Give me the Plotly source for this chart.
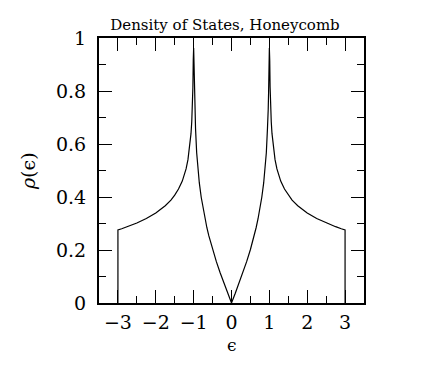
import plotly.graph_objects as go

# Density of states values (energy eps, density rho)
eps = [-3.0, -3.0, -2.9, -2.75, -2.5, -2.25, -2.0, -1.75, -1.6, -1.5, -1.4, -1.3, -1.25,
       -1.2, -1.15, -1.1, -1.07, -1.05, -1.04, -1.03, -1.02, -1.01, -1.0,
       -0.99, -0.98, -0.97, -0.96, -0.95, -0.92, -0.9, -0.88, -0.85, -0.8, -0.75,
       -0.7, -0.65, -0.6, -0.5, -0.4, -0.3, -0.2, -0.1, 0.0,
       0.1, 0.2, 0.3, 0.4, 0.5, 0.6, 0.65, 0.7, 0.75, 0.8, 0.85, 0.88, 0.9, 0.92,
       0.95, 0.96, 0.97, 0.98, 0.99, 1.0,
       1.01, 1.02, 1.03, 1.04, 1.05, 1.07, 1.1, 1.15, 1.2, 1.25, 1.3, 1.4, 1.5,
       1.6, 1.75, 2.0, 2.25, 2.5, 2.75, 2.9, 3.0, 3.0]
rho = [0.0, 0.276, 0.280, 0.288, 0.302, 0.319, 0.340, 0.367, 0.388, 0.407, 0.430, 0.460, 0.481,
       0.506, 0.541, 0.592, 0.639, 0.684, 0.715, 0.756, 0.814, 0.915, 0.962,
       0.905, 0.796, 0.731, 0.684, 0.658, 0.567, 0.527, 0.495, 0.453, 0.399, 0.355,
       0.317, 0.284, 0.254, 0.202, 0.156, 0.114, 0.074, 0.037, 0.0,
       0.037, 0.074, 0.114, 0.156, 0.202, 0.254, 0.284, 0.317, 0.355, 0.399, 0.453, 0.495, 0.527, 0.567,
       0.658, 0.684, 0.731, 0.796, 0.905, 0.962,
       0.915, 0.814, 0.756, 0.715, 0.684, 0.639, 0.592, 0.541, 0.506, 0.481, 0.460, 0.430, 0.407,
       0.388, 0.367, 0.340, 0.319, 0.302, 0.288, 0.280, 0.276, 0.0]

x_ticks = [-3, -2, -1, 0, 1, 2, 3]
y_ticks = [0, 0.2, 0.4, 0.6, 0.8, 1]
y_tick_text = ["0", "0.2", "0.4", "0.6", "0.8", "1"]

# page has an 8px body margin; figure sized so it ends at the window edge
W, H = 427, 359
L, T = 91, 30
PW, PH = 264.7, 264.7
R, B = W - L - PW, H - T - PH

fig = go.Figure()
fig.add_trace(go.Scatter(x=eps, y=rho, mode="lines",
                         line=dict(color="black", width=1.2),
                         showlegend=False, hoverinfo="skip"))

axis_common = dict(
    showline=True, linecolor="black", linewidth=2, mirror="ticks",
    ticks="inside", ticklen=13, tickwidth=1, tickcolor="black",
    showgrid=False, zeroline=False, automargin=False,
    tickfont=dict(family="DejaVu Serif", size=19, color="black"),
)

fig.update_xaxes(range=[-3.5, 3.5], tickvals=x_ticks, ticklabelstandoff=1,
                 minor=dict(dtick=0.5, ticks="inside", ticklen=7, tickwidth=1, tickcolor="black"),
                 **axis_common)
fig.update_yaxes(range=[0, 1], tickvals=y_ticks, ticktext=y_tick_text, ticklabelstandoff=7,
                 minor=dict(dtick=0.1, ticks="inside", ticklen=7, tickwidth=1, tickcolor="black"),
                 **axis_common)

fig.update_layout(
    width=W, height=H,
    margin=dict(l=L, r=R, t=T, b=B, autoexpand=False),
    paper_bgcolor="white", plot_bgcolor="white",
    title=dict(text="Density of States, Honeycomb", x=(225 - 8) / W, xanchor="center",
               y=1 - (25 - 8) / H, yanchor="middle",
               font=dict(family="DejaVu Serif", size=15, color="black")),
    annotations=[
        dict(text="ϵ", xref="paper", yref="paper", x=0.5, y=-(345 - 302.7) / PH,
             xanchor="center", yanchor="middle", showarrow=False,
             font=dict(family="DejaVu Serif", size=17, color="black")),
        dict(text="<i>ρ</i>(ϵ)", xref="paper", yref="paper",
             x=-(63 + 8) / PW, y=(302.7 - 171) / PH,
             xanchor="center", yanchor="middle", textangle=-90, showarrow=False,
             font=dict(family="DejaVu Serif", size=19, color="black")),
    ],
)

fig.write_html("out.html")
